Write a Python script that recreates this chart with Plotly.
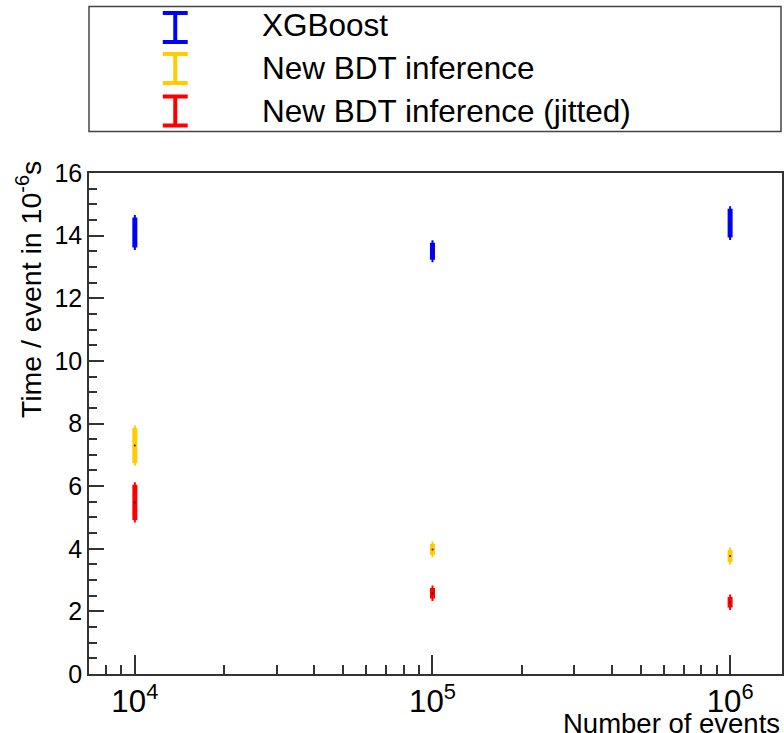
import plotly.graph_objects as go

# ---- data ----
events = [1e4, 1e5, 1e6]
xgb_time = [14.1, 13.5, 14.4]
xgb_err = [0.48, 0.27, 0.46]
bdt_time = [7.3, 3.98, 3.77]
bdt_err = [0.56, 0.17, 0.19]
jit_time = [5.48, 2.58, 2.29]
jit_err = [0.56, 0.17, 0.17]

series_names = ["XGBoost", "New BDT inference", "New BDT inference (jitted)"]
series_colors = ["#0000ff", "#ffcc00", "#ff0000"]

W, H = 784, 733
L, R, T, B = 89, 0, 173, 59
PW, PH = W - L - R, H - T - B

def pxx(px):
    return (px - L) / PW

def pxy(py):
    return (H - B - py) / PH

FONT = "Liberation Sans, Arial, sans-serif"

fig = go.Figure()
for name, y, e, c in zip(series_names, [xgb_time, bdt_time, jit_time],
                         [xgb_err, bdt_err, jit_err], series_colors):
    fig.add_trace(go.Scatter(
        x=events, y=y, name=name, mode="markers",
        marker=dict(size=2, color="#222222"),
        error_y=dict(type="data", array=e, color=c, thickness=5, width=1),
        showlegend=False,
    ))

shapes = []
annotations = []
# legend box
shapes.append(dict(type="rect", xref="paper", yref="paper",
                   x0=pxx(89), x1=pxx(783), y0=pxy(131.5), y1=pxy(6.5),
                   line=dict(color="#444444", width=1.5), fillcolor="white", layer="above"))
sym_centers = [27.5, 68.5, 111]
text_centers = [24.5, 68, 111.5]
for name, c, yc, yt in zip(series_names, series_colors, sym_centers, text_centers):
    x0, x1, xc = pxx(163), pxx(188), pxx(175.5)
    ytop, ybot = pxy(yc - 14.5), pxy(yc + 14.5)
    shapes.append(dict(type="line", xref="paper", yref="paper", x0=xc, x1=xc,
                       y0=ybot, y1=ytop, line=dict(color=c, width=4)))
    shapes.append(dict(type="line", xref="paper", yref="paper", x0=x0, x1=x1,
                       y0=ytop, y1=ytop, line=dict(color=c, width=4)))
    shapes.append(dict(type="line", xref="paper", yref="paper", x0=x0, x1=x1,
                       y0=ybot, y1=ybot, line=dict(color=c, width=4)))
    annotations.append(dict(xref="paper", yref="paper", x=pxx(260), y=pxy(yt),
                            xanchor="left", yanchor="middle", showarrow=False,
                            text=name, font=dict(family=FONT, size=31.5, color="black")))

# axis titles
annotations.append(dict(xref="paper", yref="paper", x=pxx(29), y=pxy(290),
                        xanchor="center", yanchor="middle", showarrow=False, textangle=-90,
                        text="Time / event in 10<sup>-6</sup>s",
                        font=dict(family=FONT, size=28.5, color="black")))
annotations.append(dict(xref="paper", yref="paper", x=1.0, y=pxy(741),
                        xanchor="right", yanchor="bottom", showarrow=False,
                        text="Number of events",
                        font=dict(family=FONT, size=27.5, color="black")))

fig.update_layout(
    width=W, height=H,
    margin=dict(l=L, r=R, t=T, b=B),
    paper_bgcolor="white", plot_bgcolor="white",
    shapes=shapes, annotations=annotations,
    font=dict(family=FONT, size=25, color="black"),
)
fig.update_xaxes(
    type="log", range=[3.846, 3.846 + PW / 298.5],
    dtick=1, exponentformat="power", showexponent="all",
    ticks="inside", ticklen=19, tickwidth=1.5, tickcolor="#333333",
    minor=dict(dtick="D1", ticks="inside", ticklen=9, tickwidth=1.5, tickcolor="#333333", showgrid=False),
    showgrid=False, zeroline=False, showline=True, linecolor="#333333", linewidth=1.5, mirror=True,
    tickfont=dict(family=FONT, size=25, color="black"),
)
fig.update_yaxes(
    range=[0, 16], dtick=2,
    ticks="inside", ticklen=15, tickwidth=1.5, tickcolor="#333333",
    minor=dict(dtick=0.5, ticks="inside", ticklen=8, tickwidth=1.5, tickcolor="#333333", showgrid=False),
    showgrid=False, zeroline=False, showline=True, linecolor="#333333", linewidth=1.5, mirror=True,
    tickfont=dict(family=FONT, size=25, color="black"),
)

fig.write_html("out.html", config={"displayModeBar": False},
               post_script="document.body.style.margin='0px';")
